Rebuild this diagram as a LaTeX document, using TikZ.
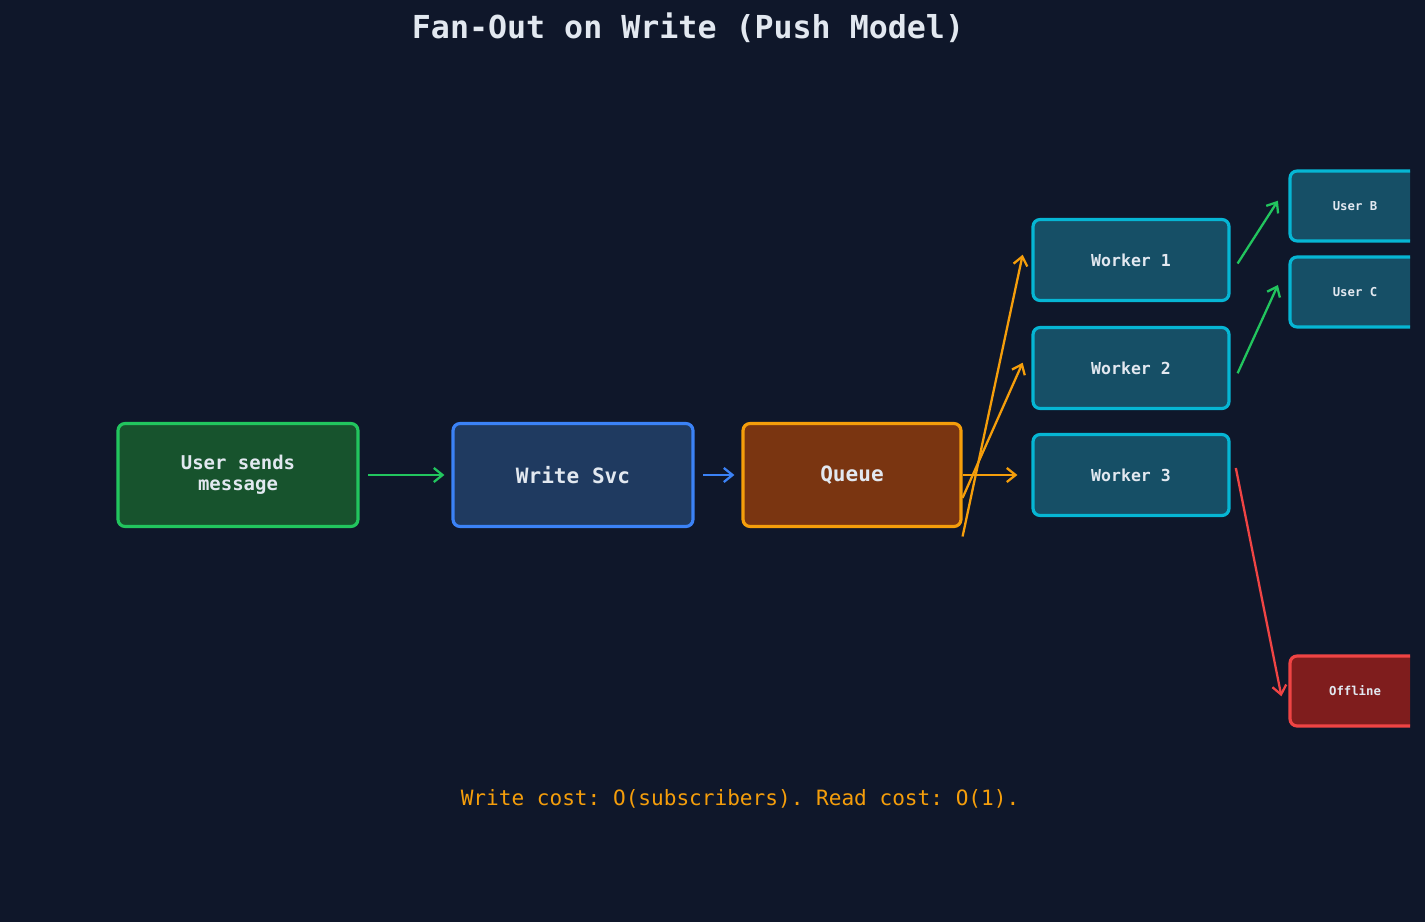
\documentclass[tikz,border=0pt]{standalone}
\usepackage{fontspec}
\setmonofont{DejaVu Sans Mono}
\usetikzlibrary{arrows.meta}
\definecolor{bgc}{HTML}{0F172A}
\definecolor{txt}{HTML}{E2E8F0}
\definecolor{gfill}{HTML}{17532D}\definecolor{gline}{HTML}{22C55E}
\definecolor{bfill}{HTML}{1F3A60}\definecolor{bline}{HTML}{3B82F6}
\definecolor{qfill}{HTML}{7A3511}\definecolor{qline}{HTML}{F59E0B}
\definecolor{wfill}{HTML}{164F66}\definecolor{wline}{HTML}{06B6D4}
\definecolor{rfill}{HTML}{7F1D1D}\definecolor{rline}{HTML}{EF4444}
\begin{document}
\begin{tikzpicture}[x=0.02cm, y=-0.02cm, font=\ttfamily\bfseries]
  \tikzset{box/.style = {draw, line width=1.8pt, rounded corners=4pt, text=txt, align=center, font=\ttfamily\bfseries\fontsize{10.8}{12}\selectfont},
    small/.style = {box, minimum width=2.6cm, minimum height=1.4cm, font=\ttfamily\bfseries\fontsize{7}{8}\selectfont},
    worker/.style = {box, fill=wfill, draw=wline, minimum width=3.92cm, minimum height=1.62cm, font=\ttfamily\bfseries\fontsize{9.4}{11}\selectfont},
    link/.style = {line width=1.3pt, -{Straight Barb[length=5pt, width=8pt, line width=1.3pt]}}}
  \fill[bgc] (0,0) rectangle (1425,922);
  \useasboundingbox (0,0) rectangle (1425,922);

  \node[text=txt, font=\ttfamily\bfseries\fontsize{18}{20}\selectfont] (title) at (688,28) {Fan-Out on Write (Push Model)};

	\node[box, fill=gfill, draw=gline, minimum width=4.8cm, minimum height=2.06cm] (user) at (238,475) {User sends\\message};
	\node[box, fill=bfill, draw=bline, minimum width=4.8cm, minimum height=2.06cm, font=\ttfamily\bfseries\fontsize{12}{14}\selectfont] (svc) at (573,475) {Write Svc};
	\node[box, fill=qfill, draw=qline, minimum width=4.36cm, minimum height=2.06cm, font=\ttfamily\bfseries\fontsize{12}{14}\selectfont] (queue) at (852,475) {Queue};
	\node[worker] (w1) at (1131,260) {Worker 1};
	\node[worker] (w2) at (1131,368) {Worker 2};
	\node[worker] (w3) at (1131,475) {Worker 3};

	\begin{scope}
	  \clip (0,0) rectangle (1410,922);
	  \node[small, fill=wfill, draw=wline] (ub) at (1355,206) {User B};
	  \node[small, fill=wfill, draw=wline] (uc) at (1355,292) {User C};
	  \node[small, fill=rfill, draw=rline] (off) at (1355,691) {Offline};
	\end{scope}

	\draw[link, gline, line width=1.7pt, shorten <=5pt, shorten >=4pt] (user) -- (svc);
	\draw[link, bline, line width=1.7pt, shorten <=5pt, shorten >=4pt] (svc) -- (queue);
	\draw[link, qline] ([yshift=-35]queue.east) -- ([xshift=-5,yshift=3]w1.west);
	\draw[link, qline] ([yshift=-13]queue.east) -- ([xshift=-5,yshift=3]w2.west);
	\draw[link, qline] (queue.east) -- ([xshift=-8]w3.west);
	\draw[link, gline] ([xshift=4,yshift=-2]w1.east) -- ([xshift=-6,yshift=3]ub.west);
	\draw[link, gline] ([xshift=4,yshift=-3]w2.east) -- ([xshift=-6,yshift=4]uc.west);
	\draw[link, rline] ([xshift=3,yshift=4]w3.east) -- ([xshift=-4,yshift=-3]off.west);

  \node[text=qline, font=\ttfamily\fontsize{12}{14}\selectfont] (note) at (740,799) {Write cost: O(subscribers). Read cost: O(1).};
\end{tikzpicture}
\end{document}
